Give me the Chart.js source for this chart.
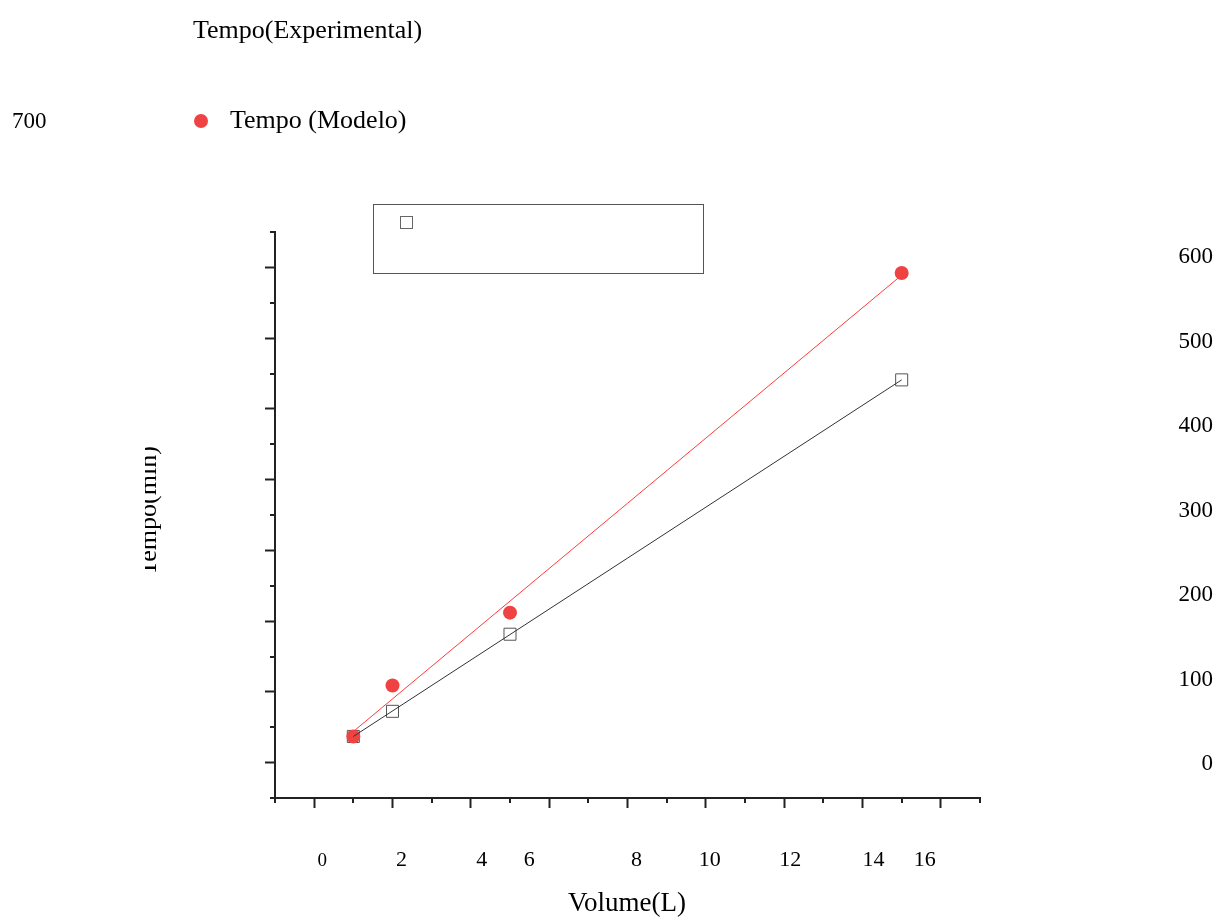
<!DOCTYPE html>
<html>
<head>
<meta charset="utf-8">
<script src="https://cdn.jsdelivr.net/npm/chart.js@4/dist/chart.umd.min.js"></script>
<style>
  html, body { margin: 0; padding: 0; background: #fff; }
  canvas { display: block; }
</style>
</head>
<body>
<canvas id="myChart" width="1219" height="920"></canvas>
<script>
// measured points
var volume = [1, 2, 5, 15];
var tempoExperimental = [37, 72.5, 181.5, 541];
var tempoModelo = [37, 109, 212, 692];

// fitted lines, end points
var fitVolume = [1, 15];
var fitExperimental = [37, 541];
var fitModelo = [44, 689];

// axis texts
var xTickLabels = ['0', '2', '4', '6', '8', '10', '12', '14', '16'];
var yTickLabels = ['0', '100', '200', '300', '400', '500', '600', '700'];
var seriesNames = ['Tempo(Experimental)', 'Tempo (Modelo)'];
var xTitle = 'Volume(L)';
var yTitle = 'Tempo(min)';

var SERIF = "'Liberation Serif', 'Times New Roman', serif";
var AXIS = '#222';
var RED = '#ef4343';

function pairs(xs, ys) {
    return xs.map(function (x, i) { return { x: x, y: ys[i] }; });
}

// major ticks only where a label belongs
function ticksFrom(labels) {
    return function (axis) {
        axis.ticks = labels.map(function (l) { return { value: Number(l) }; });
    };
}

// x labels sit a little off their ticks
var xLabelNudge = [8, 9, 11, -20, 9, 4, 6, 11, -16];

var textPlugin = {
    id: 'looseText',
    afterDraw: function (chart) {
        var ctx = chart.ctx;
        var xs = chart.scales.x, ys = chart.scales.y, yr = chart.scales.yRight;
        var area = chart.chartArea;
        ctx.save();

        // minor ticks
        ctx.strokeStyle = AXIS;
        ctx.lineWidth = 2;
        ctx.beginPath();
        for (var v = -1; v <= 17; v += 2) {
            var px = Math.round(xs.getPixelForValue(v));
            ctx.moveTo(px, area.bottom);
            ctx.lineTo(px, area.bottom + 5);
        }
        for (var w = -50; w <= 750; w += 100) {
            var py = Math.round(ys.getPixelForValue(w));
            ctx.moveTo(area.left, py);
            ctx.lineTo(area.left - 5, py);
        }
        ctx.stroke();

        ctx.fillStyle = '#000';

        // x tick labels
        ctx.font = '22px ' + SERIF;
        ctx.textAlign = 'center';
        ctx.textBaseline = 'alphabetic';
        xTickLabels.forEach(function (lab, i) {
            var px = xs.getPixelForValue(Number(lab)) + xLabelNudge[i];
            if (i === 0) {
                ctx.save();
                ctx.font = '19px ' + SERIF;
                ctx.fillText(lab, px, area.bottom + 68);
                ctx.restore();
            } else {
                ctx.fillText(lab, px, area.bottom + 68);
            }
        });

        // y tick labels, far right
        ctx.font = '23px ' + SERIF;
        ctx.textAlign = 'right';
        ctx.textBaseline = 'middle';
        yTickLabels.slice(0, 7).forEach(function (lab) {
            ctx.fillText(lab, 1213, yr.getPixelForValue(Number(lab)));
        });
        // the top one ended up by the legend
        ctx.textAlign = 'left';
        ctx.textBaseline = 'alphabetic';
        ctx.fillText(yTickLabels[7], 12, 128);

        // legend texts
        ctx.font = '26px ' + SERIF;
        ctx.fillText(seriesNames[0], 193, 38);
        ctx.fillText(seriesNames[1], 230, 128);
        ctx.fillStyle = RED;
        ctx.beginPath();
        ctx.arc(201, 121, 7, 0, Math.PI * 2);
        ctx.fill();

        // legend frame with the square marker
        ctx.strokeStyle = '#555';
        ctx.lineWidth = 1;
        ctx.strokeRect(373.5, 204.5, 330, 69);
        ctx.strokeStyle = '#666';
        ctx.strokeRect(400.5, 216.5, 12, 12);

        // axis titles
        ctx.fillStyle = '#000';
        ctx.font = '27px ' + SERIF;
        ctx.textAlign = 'center';
        ctx.fillText(xTitle, (area.left + area.right) / 2 - 0.5, 911);

        ctx.save();
        ctx.beginPath();
        ctx.rect(145, 0, 200, chart.height);
        ctx.clip();
        ctx.translate(156, 511);
        ctx.rotate(-Math.PI / 2);
        ctx.font = '26px ' + SERIF;
        ctx.fillText(yTitle, 0, 0);
        ctx.restore();

        ctx.restore();
    }
};

var ctx = document.getElementById('myChart');
var myChart = new Chart(ctx, {
    type: 'scatter',
    data: {
        datasets: [
            {
                label: seriesNames[0],
                data: pairs(volume, tempoExperimental),
                pointStyle: 'rect',
                pointRadius: 8.5,
                pointHoverRadius: 8.5,
                borderColor: '#555',
                borderWidth: 1,
                backgroundColor: 'rgba(0,0,0,0)',
                order: 2
            },
            {
                label: seriesNames[1],
                data: pairs(volume, tempoModelo),
                pointStyle: 'circle',
                pointRadius: 7,
                pointHoverRadius: 7,
                borderWidth: 0,
                backgroundColor: RED,
                order: 1
            },
            {
                label: 'fit exp',
                data: pairs(fitVolume, fitExperimental),
                showLine: true,
                pointRadius: 0,
                borderColor: '#333',
                borderWidth: 1,
                order: 0
            },
            {
                label: 'fit modelo',
                data: pairs(fitVolume, fitModelo),
                showLine: true,
                pointRadius: 0,
                borderColor: '#ff3c3c',
                borderWidth: 1,
                order: 0
            }
        ]
    },
    options: {
        responsive: false,
        animation: false,
        devicePixelRatio: 1,
        layout: { padding: { left: 265, right: 239, top: 232, bottom: 112 } },
        plugins: {
            legend: { display: false },
            tooltip: { enabled: false }
        },
        scales: {
            x: {
                type: 'linear',
                min: -1,
                max: 17,
                afterBuildTicks: ticksFrom(xTickLabels),
                ticks: { display: false },
                grid: { drawOnChartArea: false, tickLength: 10, tickWidth: 2, tickColor: AXIS },
                border: { color: AXIS, width: 2 }
            },
            y: {
                type: 'linear',
                min: -50,
                max: 750,
                afterBuildTicks: ticksFrom(yTickLabels),
                ticks: { display: false },
                grid: { drawOnChartArea: false, tickLength: 10, tickWidth: 2, tickColor: AXIS },
                border: { color: AXIS, width: 2 }
            },
            yRight: {
                type: 'linear',
                display: false,
                min: -40,
                max: 630
            }
        }
    },
    plugins: [textPlugin]
});
</script>
</body>
</html>
